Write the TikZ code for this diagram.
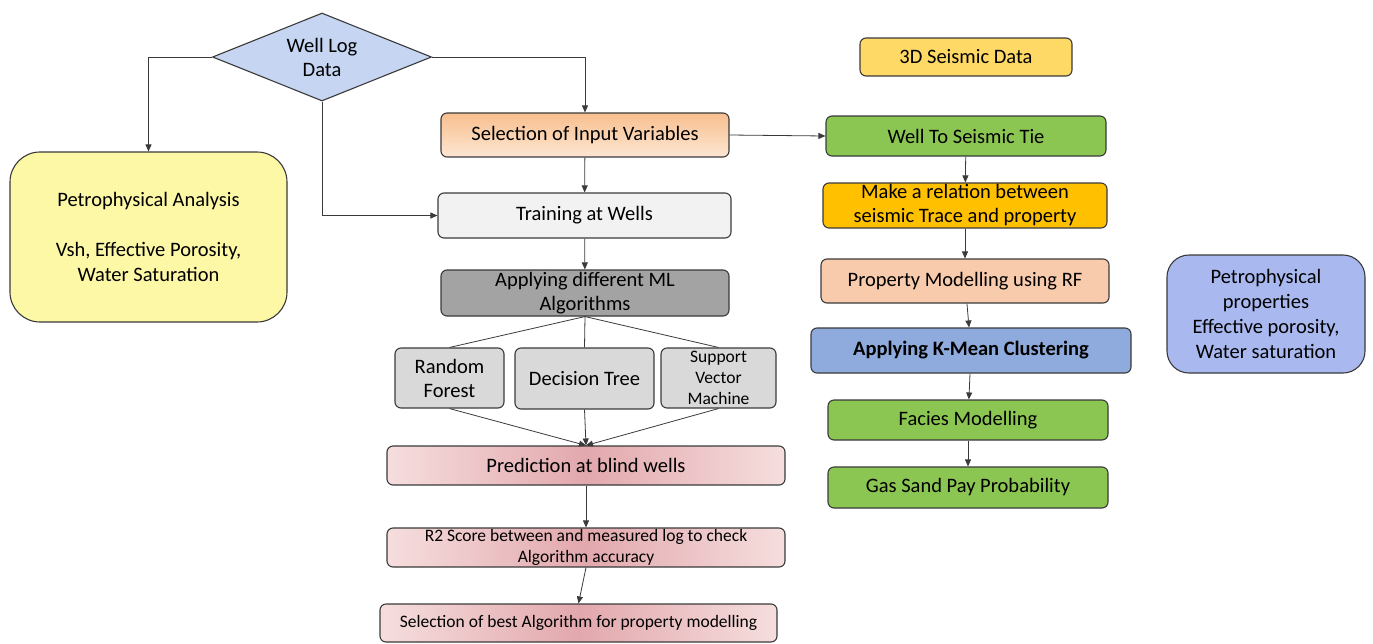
\documentclass[tikz,border=0pt]{standalone}
\usepackage{fontspec}
\setmainfont{Carlito}
\usetikzlibrary{shapes.geometric,arrows.meta}
\definecolor{bd}{HTML}{3A3A3A}
\definecolor{cdia}{HTML}{C6D6F2}
\definecolor{cyel}{HTML}{FDF8A6}
\definecolor{corT}{HTML}{F8BF8E}
\definecolor{corB}{HTML}{FDE6D3}
\definecolor{ctrain}{HTML}{F2F2F2}
\definecolor{cml}{HTML}{A3A3A3}
\definecolor{calg}{HTML}{D9D9D9}
\definecolor{cpkM}{HTML}{E2A8AD}
\definecolor{cpkE}{HTML}{F6DEDE}
\definecolor{cseis}{HTML}{FFD966}
\definecolor{cgreen}{HTML}{8CC652}
\definecolor{cmake}{HTML}{FFC000}
\definecolor{cprop}{HTML}{F8CBAD}
\definecolor{ckm}{HTML}{8FAADC}
\definecolor{cpp}{HTML}{A9B9F0}
\tikzset{
  box/.style={draw=bd, line width=1.1pt, rounded corners=6pt, align=center, inner sep=2pt,
    font=\fontsize{20.5}{24}\selectfont},
  sbox/.style={box, font=\fontsize{17.5}{21}\selectfont},
  sz/.style 2 args={minimum width=#1pt, minimum height=#2pt},
  arr/.style={draw=bd, line width=0.8pt, -{Triangle[length=7pt,width=6pt]}},
  ln/.style={draw=bd, line width=0.8pt},
}
\begin{document}
\begin{tikzpicture}[x=1pt,y=-1pt]
\useasboundingbox (0,0) rectangle (1373,643);
% left column
\node[diamond, draw=bd, line width=1.1pt, fill=cdia, inner sep=0pt, aspect=2.49, sz={219}{88},
  align=center, font=\fontsize{20.5}{24}\selectfont] (wld) at (322,57) {Well Log\\Data};
\node[box, fill=cyel, rounded corners=30pt, sz={277}{170}, font=\fontsize{20.5}{25}\selectfont]
  (petA) at (148.5,237) {Petrophysical Analysis\\[25pt]Vsh, Effective Porosity,\\Water Saturation};
\node[box, top color=corT, bottom color=corB, sz={288}{44}] (sel) at (585,135) {Selection of Input Variables};
\node[box, fill=ctrain, sz={293}{45}] (train) at (584.5,215.5) {Training at Wells};
\node[box, fill=cml, sz={288}{46}, inner sep=0pt] (ml) at (585,293) {Applying different ML\\Algorithms};
\node[box, fill=calg, sz={109}{60}, inner sep=0pt] (rf) at (449.5,378) {Random\\Forest};
\node[box, fill=calg, sz={139}{61}] (dt) at (584.5,378.5) {Decision Tree};
\node[sbox, fill=calg, sz={115}{60}, inner sep=0pt] (svm) at (718.5,378) {Support\\Vector\\Machine};
\node[box, left color=cpkE, right color=cpkE, middle color=cpkM, sz={398}{39}] (pred) at (586,465.5) {Prediction at blind wells};
\node[sbox, left color=cpkE, right color=cpkE, middle color=cpkM, sz={398}{39}, inner sep=0pt] (r2) at (586,547.5)
  {R2 Score between and measured log to check\\Algorithm accuracy};
\node[sbox, left color=cpkE, right color=cpkE, middle color=cpkM, sz={397}{38}] (best) at (578.5,623)
  {Selection of best Algorithm for property modelling};
% right column
\node[box, fill=cseis, sz={212}{38}] (seis) at (966,57) {3D Seismic Data};
\node[box, fill=cgreen, sz={280}{40}] (wst) at (966,136) {Well To Seismic Tie};
\node[box, fill=cmake, sz={284}{45}, inner sep=0pt] (make) at (965,205.5) {Make a relation between\\seismic Trace and property};
\node[box, fill=cprop, sz={288}{44}] (prop) at (965,281) {Property Modelling using RF};
\node[box, fill=ckm, sz={320}{45}, font=\fontsize{20.5}{24}\selectfont\bfseries] (km) at (971,350.5) {Applying K-Mean Clustering};
\node[box, fill=cgreen, sz={280}{40}] (fac) at (968,420) {Facies Modelling};
\node[box, fill=cgreen, sz={280}{41}] (gas) at (968,487.5) {Gas Sand Pay Probability};
\node[box, fill=cpp, rounded corners=22pt, sz={198}{118}, font=\fontsize{20.5}{25}\selectfont]
  (petP) at (1266,314) {Petrophysical\\properties\\Effective porosity,\\Water saturation};
% connectors
\draw[arr] (wld.west) -| (petA.north);
\draw[arr] (wld.east) -| (sel.north);
\draw[arr] (wld.south) |- (train.west);
\draw[arr] (sel) -- (train);
\draw[arr] (train) -- (ml);
\draw[ln] (ml.south) -- (rf.north);
\draw[ln] (ml.south) -- (dt.north);
\draw[ln] (ml.south) -- (svm.north);
\draw[arr] (rf.south) -- (pred.north);
\draw[arr] (dt.south) -- (pred.north);
\draw[arr] (svm.south) -- (pred.north);
\draw[arr] (pred) -- (r2);
\draw[arr] (r2.south) -- (best.north);
\draw[arr] (sel.east) -- (wst.west);
\draw[arr] (wst) -- (make);
\draw[arr] (make) -- (prop);
\draw[arr] (prop) -- (km);
\draw[arr] (km) -- (fac);
\draw[arr] (fac) -- (gas);
\end{tikzpicture}
\end{document}
